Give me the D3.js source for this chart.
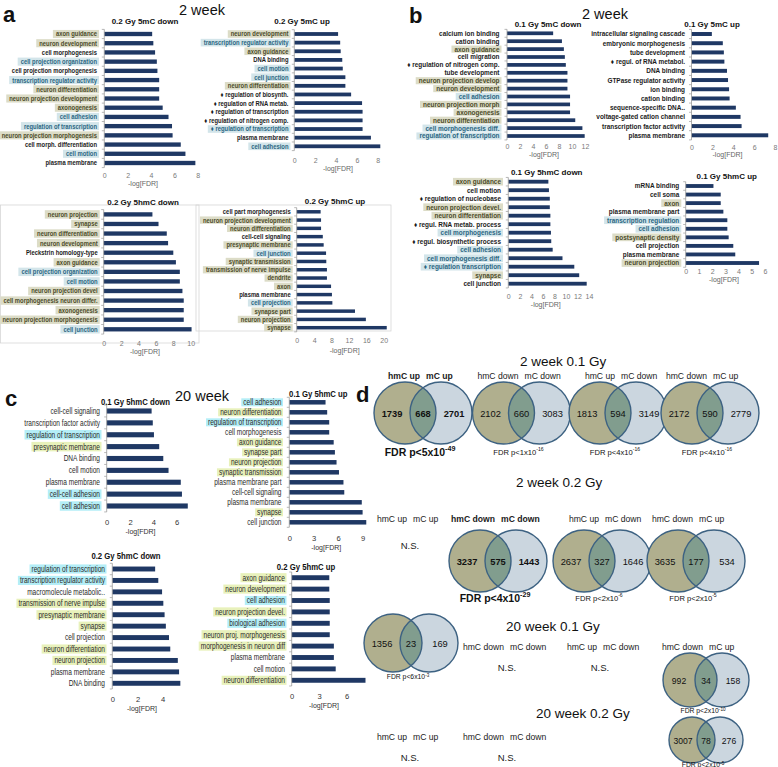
<!DOCTYPE html>
<html><head><meta charset="utf-8">
<script src="https://cdn.jsdelivr.net/npm/d3@7/dist/d3.min.js"></script>
<style>
html,body{margin:0;padding:0;background:#fff;}
svg{display:block;font-family:'Liberation Sans',Arial,Helvetica,sans-serif;}
</style></head><body>
<script>
// ================= DATA =================
// Panel a (2 week, 0.2 Gy)
const a1Cats = ["axon guidance","neuron development","cell morphogenesis","cell projection organization","cell projection morphogenesis","transcription regulator activity","neuron differentiation","neuron projection development","axonogenesis","cell adhesion","regulation of transcription","neuron projection morphogenesis","cell morph. differentiation","cell motion","plasma membrane"];
const a1Vals = [4.1,4.2,4.35,4.5,4.55,4.7,4.7,4.7,5.0,5.5,5.8,5.85,6.55,6.95,7.8];
const a1Tags = ["g","g","","b","","b","g","g","g","b","b","g","","b",""];

const a2Cats = ["neuron development","transcription regulator activity","axon guidance","DNA binding","cell motion","cell junction","neuron differentiation","♦ regulation of biosynth.","♦ regulation of RNA metab.","♦ regulation of transcription","♦ regulation of nitrogen comp.","♦ regulation of transcription","plasma membrane","cell adhesion"];
const a2Vals = [4.2,4.4,4.45,4.6,4.65,4.9,4.9,5.45,6.5,6.55,6.55,6.55,7.35,8.25];
const a2Tags = ["g","b","g","","b","b","g","","","","","b","","b"];

const a3Cats = ["neuron projection","synapse","neuron differentiation","neuron development","Pleckstrin homology-type","axon guidance","cell projection organization","cell motion","neuron projection devel","cell morphogenesis neuron differ.","axonogenesis","neuron projection morphogenesis","cell junction"];
const a3Vals = [5.6,6.3,7.25,7.4,8.0,8.3,8.75,8.75,9.05,9.2,9.2,9.2,10.1];
const a3Tags = ["g","g","g","g","","g","b","b","g","g","g","g","b"];

const a4Cats = ["cell part morphogenesis","neuron projection development","neuron differentiation","cell-cell signaling","presynaptic membrane","cell junction","synaptic transmission","transmission of nerve impulse","dendrite","axon","plasma membrane","cell projection","synapse part","neuron projection","synapse"];
const a4Vals = [5.5,5.6,5.6,6.0,6.2,6.75,6.8,6.95,6.95,7.9,8.1,8.2,13.4,15.9,20.7];
const a4Tags = ["","g","g","","g","b","g","g","g","g","","b","g","g","g"];

// Panel b (2 week, 0.1 Gy)
const b1Cats = ["calcium ion binding","cation binding","axon guidance","cell migration","♦ regulation of nitrogen comp.","tube development","neuron projection develop","neuron development","cell adhesion","neuron projection morph","axonogenesis","neuron differentiation","cell morphogenesis diff.","regulation of transcription"];
const b1Vals = [7.1,8.45,8.75,8.9,9.05,9.3,9.3,9.3,9.7,9.7,9.7,10.5,11.6,11.95];
const b1Tags = ["","","g","","","","g","g","b","g","g","g","b","b"];

const b2Cats = ["intracellular signaling cascade","embryonic morphogenesis","tube development","♦ regul. of RNA metabol.","DNA binding","GTPase regulator activity","ion binding","cation binding","sequence-specific DNA..","voltage-gated cation channel","transcription factor activity","plasma membrane"];
const b2Vals = [1.95,3.0,3.1,3.15,3.4,3.5,3.6,3.65,4.25,4.7,4.8,7.35];
const b2Tags = ["","","","","","","","","","","",""];

const b3Cats = ["axon guidance","cell motion","♦ regulation of nucleobase","neuron projection devel.","neuron differentiation","♦ regul. RNA metab. process","cell morphogenesis","♦ regul. biosynthetic process","cell adhesion","cell morphogenesis diff.","♦ regulation transcription","synapse","cell junction"];
const b3Vals = [6.95,7.05,7.2,7.2,7.3,7.3,7.4,7.45,7.7,9.4,11.45,12.3,13.6];
const b3Tags = ["g","","","g","g","","b","","b","b","b","g",""];

const b4Cats = ["mRNA binding","cell soma","axon","plasma membrane part","transcription regulation","cell adhesion","postsynaptic density","cell projection","plasma membrane","neuron projection"];
const b4Vals = [2.1,2.65,2.65,2.85,3.15,3.15,3.25,3.6,3.75,5.55];
const b4Tags = ["","","g","","b","b","g","","","g"];

// Panel c (20 week)
const c1Cats = ["cell-cell signaling","transcription factor activity","regulation of transcription","presynaptic membrane","DNA binding","cell motion","plasma membrane","cell-cell adhesion","cell adhesion"];
const c1Vals = [3.85,3.95,4.05,4.5,4.85,5.3,6.35,6.45,6.95];
const c1Tags = ["","","c","y","","","","c","c"];

const c2Cats = ["cell adhesion","neuron differentiation","regulation of transcription","cell morphogenesis","axon guidance","synapse part","neuron projection","synaptic transmission","plasma membrane part","cell-cell signaling","plasma membrane","synapse","cell junction"];
const c2Vals = [4.45,4.65,4.9,4.9,5.45,5.6,5.8,6.1,6.65,6.75,8.9,9.0,9.45];
const c2Tags = ["c","y","c","","y","y","y","y","","","","y",""];

const c3Cats = ["regulation of transcription","transcription regulator activity","macromolecule metabolic..","transmission of nerve impulse","presynaptic membrane","synapse","cell projection","neuron differentiation","neuron projection","plasma membrane","DNA binding"];
const c3Vals = [3.4,3.65,3.95,4.05,4.15,4.25,4.5,4.6,5.2,5.3,5.4];
const c3Tags = ["c","c","","y","y","y","","y","y","",""];

const c4Cats = ["axon guidance","neuron development","cell adhesion","neuron projection devel.","biological adhesion","neuron proj. morphogenesis","morphogenesis in neuron diff","plasma membrane","cell motion","neuron differentiation"];
const c4Vals = [4.1,4.1,4.15,4.15,4.15,4.15,4.6,4.6,4.8,8.05];
const c4Tags = ["y","y","c","y","c","y","y","","","y"];

// Panel d (Venn overlaps)
const vennRowTitles = ["2 week 0.1 Gy","2 week 0.2 Gy","20 week 0.1 Gy","20 week 0.2 Gy"];
const vennLeftLabel  = ["hmC up","hmC down","hmC up","hmC down","hmC up","hmC down","hmC up","hmC down","","hmC down","hmC up","hmC down","hmC up","hmC down",""];
const vennRightLabel = ["mC up","mC down","mC down","mC up","mC up","mC down","mC down","mC up","","mC down","mC down","mC up","mC up","mC down",""];
const vennLeftOnly  = [1739,2102,1813,2172,null,3237,2637,3635,1356,null,null,992,null,null,3007];
const vennOverlap   = [668,660,594,590,null,575,327,177,23,null,null,34,null,null,78];
const vennRightOnly = [2701,3083,3149,2779,null,1443,1646,534,169,null,null,158,null,null,276];
const vennFdrMant   = ["5","1","4","4",null,"4","2","2","6",null,null,"2",null,null,"2"];
const vennFdrExp    = ["-49","-16","-16","-16",null,"-29","-6","-5","-3",null,null,"-10",null,null,"-5"];
const vennBold      = [true,false,false,false,false,true,false,false,false,false,false,false,false,false,false];

// ================= RENDER =================
const svg = d3.select("body").append("svg").attr("width",778).attr("height",767);

// light chart frames
[[0.5,205,198.5,138],[196,205,195,126]].forEach(f => {
  svg.append("rect").attr("x",f[0]).attr("y",f[1]).attr("width",f[2]).attr("height",f[3])
    .attr("fill","none").attr("stroke","#d6d6d6").attr("stroke-width",0.8);
});

const ST = {
  a: {font:7, weight:"bold", sx:0.84, hl:{g:"#dcdcc7", b:"#d3e5ea"}, col:{g:"#4c4c2a", b:"#2b6783", "":"#1c1c1c"},
      hlPadL:3, hlPadR:2, hlH:0.88, tickFont:7, tickCol:"#7a7a7a", axFont:7, axCol:"#666", axSx:1, titleFont:8, titleSx:1, bar:"#1f3864"},
  b: {font:7, weight:"bold", sx:0.92, hl:{g:"#dcdcc7", b:"#d3e5ea"}, col:{g:"#4c4c2a", b:"#2b6783", "":"#1c1c1c"},
      hlPadL:3, hlPadR:2, hlH:0.9, tickFont:7, tickCol:"#7a7a7a", axFont:7, axCol:"#666", axSx:1, titleFont:8, titleSx:1, bar:"#1f3864"},
  c: {font:8.2, weight:"normal", sx:0.8, hl:{c:"#b4eef7", y:"#e8f1bb"}, col:{c:"#2a2a2a", y:"#2a2a2a", "":"#2a2a2a"},
      hlPadL:2, hlPadR:1.5, hlH:0.8, tickFont:7.6, tickCol:"#333", axFont:8, axCol:"#333", axSx:0.88, titleFont:8.6, titleSx:0.9, bar:"#1f3864"}
};

function ctext(g, x, y, str, sx, opts) {
  return g.append("text")
    .attr("transform", `translate(${x},${y}) scale(${sx},1)`)
    .attr("dy", "0.35em")
    .attr("text-anchor", opts.anchor || "middle")
    .style("font-size", opts.size + "px")
    .style("font-weight", opts.weight || "normal")
    .attr("fill", opts.fill || "#111")
    .text(str);
}

function drawBars(cats, vals, tags, L, st) {
  const g = svg.append("g");
  const x = d3.scaleLinear().domain([0, L.max]).range([L.x0, L.x1]);
  const y = d3.scalePoint().domain(d3.range(cats.length)).range([L.y0, L.y1]);
  const step = y.step();
  const hl = g.append("g"), tx = g.append("g");
  cats.forEach((c, i) => {
    const t = ctext(tx, L.lx, y(i), c, st.sx, {anchor:"end", size:st.font, weight:st.weight, fill:st.col[tags[i]] || st.col[""]});
    if (tags[i]) {
      const w = t.node().getComputedTextLength() * st.sx;
      const h = step * st.hlH;
      hl.append("rect").attr("x", L.lx - w - st.hlPadL).attr("y", y(i) - h/2)
        .attr("width", w + st.hlPadL + st.hlPadR).attr("height", h).attr("fill", st.hl[tags[i]]);
    }
  });
  const bh = step * (L.bf || 0.45);
  g.append("g").selectAll("rect").data(vals).join("rect")
    .attr("x", x(0)).attr("y", (d, i) => y(i) - bh/2)
    .attr("width", d => x(d) - x(0)).attr("height", bh).attr("fill", st.bar);
  const ya = L.y0 - step/2, yb = L.y1 + step/2;
  g.append("line").attr("x1", x(0)).attr("x2", x(0)).attr("y1", ya).attr("y2", yb)
    .attr("stroke", "#9a9a9a").attr("stroke-width", 0.8);
  g.append("g").selectAll("line").data(d3.range(cats.length + 1)).join("line")
    .attr("x1", x(0) - 2.5).attr("x2", x(0)).attr("y1", k => ya + k*step).attr("y2", k => ya + k*step)
    .attr("stroke", "#9a9a9a").attr("stroke-width", 0.7);
  const ax = g.append("g").attr("transform", `translate(0,${L.ty})`)
    .call(d3.axisBottom(x).tickValues(L.ticks).tickSize(0).tickPadding(0).tickFormat(d3.format("d")));
  ax.select(".domain").remove();
  ax.selectAll("text").attr("y", 0).attr("dy", "0.35em")
    .style("font-size", st.tickFont + "px").style("font-family", "'Liberation Sans',Arial,sans-serif").attr("fill", st.tickCol);
  ctext(g, L.axX, L.ay, "-log[FDR]", st.axSx, {size:st.axFont, fill:st.axCol});
  ctext(g, L.tX, L.tY, L.title, st.titleSx, {size:st.titleFont, weight:"bold", fill:"#111"});
}

drawBars(a1Cats, a1Vals, a1Tags, {x0:104.3, x1:197.7, max:8, ticks:[0,2,4,6,8], y0:34, y1:163, lx:97, ty:176, ay:184, axX:143, tX:145, tY:21, title:"0.2 Gy 5mC  down", bf:0.47}, ST.a);
drawBars(a2Cats, a2Vals, a2Tags, {x0:294.3, x1:377.7, max:8, ticks:[0,2,4,6,8], y0:34, y1:146.3, lx:288.5, ty:161, ay:168.3, axX:338, tX:302, tY:21, title:"0.2 Gy 5mC  up", bf:0.44}, ST.a);
drawBars(a3Cats, a3Vals, a3Tags, {x0:103.7, x1:190.7, max:10, ticks:[0,2,4,6,8,10], y0:214.4, y1:329.3, lx:97.7, ty:343.3, ay:351.5, axX:145, tX:143, tY:202, title:"0.2 Gy 5hmC  down", bf:0.45}, ST.a);
drawBars(a4Cats, a4Vals, a4Tags, {x0:296.7, x1:383.7, max:20, ticks:[0,4,8,12,16,20], y0:211.8, y1:327.7, lx:290.7, ty:340.7, ay:351, axX:344.7, tX:335, tY:200.7, title:"0.2 Gy 5hmC  up", bf:0.42}, ST.a);

drawBars(b1Cats, b1Vals, b1Tags, {x0:507, x1:585, max:12, ticks:[0,2,4,6,8,10,12], y0:33.3, y1:136, lx:499.5, ty:146.7, ay:155, axX:544, tX:548, tY:24, title:"0.1 Gy 5mC  down", bf:0.47}, ST.b);
drawBars(b2Cats, b2Vals, b2Tags, {x0:691.5, x1:775, max:8, ticks:[0,2,4,6,8], y0:34, y1:135.3, lx:685, ty:147.3, ay:155, axX:727.5, tX:712, tY:24, title:"0.1 Gy 5mC  up", bf:0.43}, ST.b);
drawBars(b3Cats, b3Vals, b3Tags, {x0:508.3, x1:589, max:14, ticks:[0,2,4,6,8,10,12,14], y0:181.7, y1:283.7, lx:501, ty:296.7, ay:304.3, axX:545.8, tX:546.7, tY:171.7, title:"0.1 Gy 5hmC  down", bf:0.45}, ST.b);
drawBars(b4Cats, b4Vals, b4Tags, {x0:685.7, x1:765, max:6, ticks:[0,1,2,3,4,5,6], y0:186, y1:263, lx:679.3, ty:272, ay:279.5, axX:724, tX:726.7, tY:175.7, title:"0.1 Gy 5hmC  up", bf:0.45}, ST.b);

drawBars(c1Cats, c1Vals, c1Tags, {x0:106.7, x1:176.7, max:6, ticks:[0,2,4,6], y0:411, y1:506, lx:100, ty:522.3, ay:531, axX:140.5, tX:135.5, tY:401.5, title:"0.1 Gy 5hmC down", bf:0.43}, ST.c);
drawBars(c2Cats, c2Vals, c2Tags, {x0:289.3, x1:362.6, max:9, ticks:[0,3,6,9], y0:402.3, y1:522.3, lx:281.5, ty:538.8, ay:547.3, axX:326.3, tX:318.3, tY:393.5, title:"0.1 Gy 5hmC up", bf:0.45}, ST.c);
drawBars(c3Cats, c3Vals, c3Tags, {x0:112.3, x1:162.7, max:4, ticks:[0,2,4], y0:569, y1:683.3, lx:105, ty:699.6, ay:708.5, axX:142, tX:126, tY:556, title:"0.2 Gy 5hmC down", bf:0.43}, ST.c);
drawBars(c4Cats, c4Vals, c4Tags, {x0:291.7, x1:346.7, max:6, ticks:[0,3,6], y0:577.7, y1:680.3, lx:285, ty:696.3, ay:705.5, axX:324, tX:306, tY:566.7, title:"0.2 Gy 5hmC up", bf:0.43}, ST.c);

function label(x, y, s, size, weight) {
  svg.append("text").attr("x", x).attr("y", y).style("font-size", size + "px").style("font-weight", weight).attr("fill", "#111").text(s);
}
label(3, 22, "a", 22, "bold");
label(409, 23, "b", 22, "bold");
label(5, 406, "c", 22, "bold");
label(356, 402, "d", 22, "bold");
label(179, 15, "2 week", 14.5, "normal");
label(582, 19, "2 week", 14.5, "normal");
label(175, 401, "20 week", 14.5, "normal");

// ===== Venn diagrams =====
const rowTitlePos = [[520,366],[516,487],[506,631],[536,718]];
vennRowTitles.forEach((t, i) => label(rowTitlePos[i][0], rowTitlePos[i][1], t, 13.5, "normal"));

const vennLayout = [
  {mx:423, cy:413, ly:376, fy:452, fs:10.5},
  {mx:521.5, cy:413, ly:376, fy:452, fs:7.6},
  {mx:618, cy:413, ly:376, fy:452, fs:7.6},
  {mx:710, cy:413, ly:376, fy:452, fs:7.6},
  {mx:410, ly:519, ny:546},
  {mx:498, cy:561, ly:519, fy:598, fs:10.5},
  {mx:602, cy:561, ly:519, fy:598, fs:7.6},
  {mx:696, cy:561, ly:519, fy:598, fs:7.6},
  {mx:411, cy:643, r:29, ly:null, fy:677, fs:6.8},
  {mx:507, ly:647, ny:668},
  {mx:600, ly:647, ny:668},
  {mx:706, cy:680, r:27, dist:32, ly:647, fy:711, fs:6.8},
  {mx:410, ly:737, ny:758},
  {mx:507, ly:737, ny:758},
  {mx:706, cy:740, r:23, dist:28, ly:null, fy:765, fs:6.8}
];

const fillL = "#b0af8e", fillR = "#cbd6df", fillO = "#819d8e", strokeC = "#3d6282";

function drawVenn(i, P) {
  const g = svg.append("g");
  const wt = vennBold[i] ? "bold" : "normal";
  if (vennLeftLabel[i] && P.ly != null) {
    g.append("text").attr("x", P.mx - 3).attr("y", P.ly).attr("dy", "0.35em").attr("text-anchor", "end")
      .style("font-size", "8.6px").style("font-weight", wt).attr("fill", "#1a1a1a").text(vennLeftLabel[i]);
    g.append("text").attr("x", P.mx + 3).attr("y", P.ly).attr("dy", "0.35em").attr("text-anchor", "start")
      .style("font-size", "8.6px").style("font-weight", wt).attr("fill", "#1a1a1a").text(vennRightLabel[i]);
  }
  if (vennLeftOnly[i] == null) {
    g.append("text").attr("x", P.mx).attr("y", P.ny).attr("dy", "0.35em").attr("text-anchor", "middle")
      .style("font-size", "9.5px").attr("fill", "#1a1a1a").text("N.S.");
    return;
  }
  const r = P.r || 31, dist = P.dist || 36;
  const cxL = P.mx - dist/2, cxR = P.mx + dist/2;
  const id = "vclip" + i;
  g.append("clipPath").attr("id", id).append("circle").attr("cx", cxL).attr("cy", P.cy).attr("r", r);
  g.append("circle").attr("cx", cxL).attr("cy", P.cy).attr("r", r).attr("fill", fillL);
  g.append("circle").attr("cx", cxR).attr("cy", P.cy).attr("r", r).attr("fill", fillR);
  g.append("circle").attr("cx", cxR).attr("cy", P.cy).attr("r", r).attr("fill", fillO).attr("clip-path", `url(#${id})`);
  g.append("circle").attr("cx", cxL).attr("cy", P.cy).attr("r", r).attr("fill", "none").attr("stroke", strokeC).attr("stroke-width", 1.4);
  g.append("circle").attr("cx", cxR).attr("cy", P.cy).attr("r", r).attr("fill", "none").attr("stroke", strokeC).attr("stroke-width", 1.4);
  const nfs = r < 28 ? 8.6 : 9.3;
  const nums = [[P.mx - r, vennLeftOnly[i]], [P.mx, vennOverlap[i]], [P.mx + r, vennRightOnly[i]]];
  nums.forEach(([x, v]) => {
    g.append("text").attr("x", x).attr("y", P.cy + 1).attr("dy", "0.35em").attr("text-anchor", "middle")
      .style("font-size", nfs + "px").style("font-weight", wt).attr("fill", "#111").text(v);
  });
  const fs = P.fs;
  const t = g.append("text").attr("x", P.mx - 3).attr("y", P.fy).attr("dy", "0.35em").attr("text-anchor", "middle")
    .style("font-size", fs + "px").style("font-weight", wt).attr("fill", "#111");
  t.append("tspan").text(`FDR ${vennBold[i] ? " " : ""}p<${vennFdrMant[i]}x10`);
  t.append("tspan").attr("dy", -fs * 0.42).style("font-size", (fs * 0.68) + "px").text(vennFdrExp[i]);
}
vennLayout.forEach((P, i) => drawVenn(i, P));
</script>
</body></html>
